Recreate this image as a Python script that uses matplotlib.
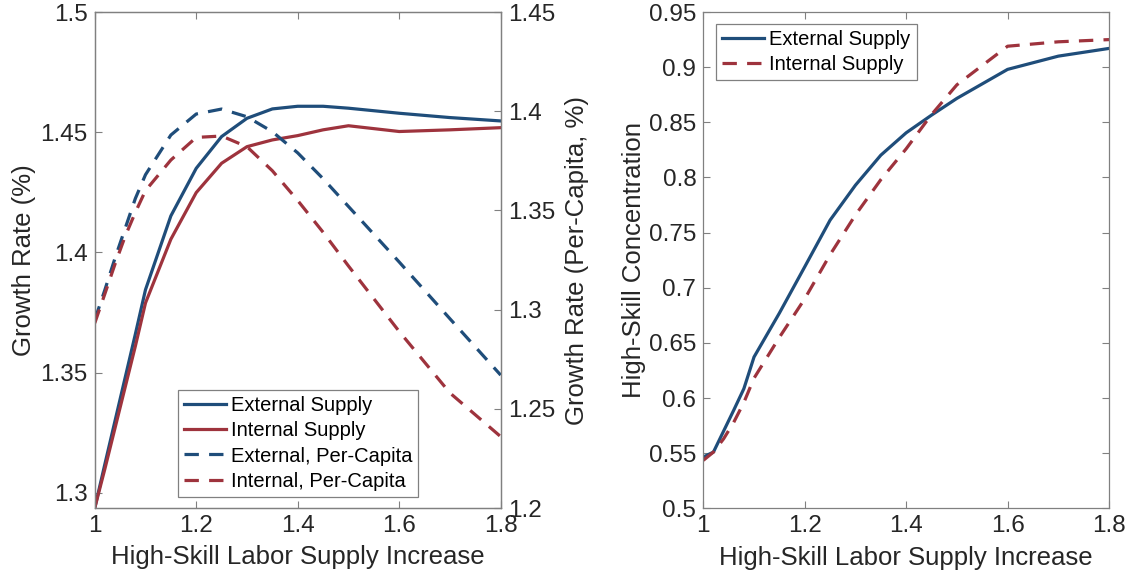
import numpy as np
import matplotlib
matplotlib.use("Agg")
import matplotlib.pyplot as plt
from matplotlib.ticker import FuncFormatter

plt.rcParams['font.family'] = ['Liberation Sans', 'DejaVu Sans']

# supply increase grid
supply = [1.0, 1.02, 1.04, 1.06, 1.08, 1.1, 1.15, 1.2, 1.25, 1.3, 1.35,
          1.4, 1.45, 1.5, 1.6, 1.7, 1.8]

# growth rate (%), left axis
growth_ext = [1.2937, 1.312, 1.330, 1.348, 1.366, 1.3845, 1.4152, 1.4350, 1.4482,
              1.4558, 1.4597, 1.4608, 1.4608, 1.4600, 1.4579, 1.4561, 1.4547]
growth_int = [1.2937, 1.310, 1.327, 1.344, 1.361, 1.379, 1.4055, 1.4249, 1.4371,
              1.4440, 1.4468, 1.4486, 1.4510, 1.4527, 1.4503, 1.4510, 1.4519]

# per-capita growth rate (%), right axis
pc_ext = [1.2948, 1.310, 1.326, 1.341, 1.356, 1.368, 1.388, 1.3986, 1.4011,
          1.3972, 1.3897, 1.379, 1.366, 1.352, 1.324, 1.2954, 1.267]
pc_int = [1.2932, 1.308, 1.323, 1.337, 1.349, 1.360, 1.3754, 1.3868, 1.3875,
          1.3821, 1.370, 1.355, 1.339, 1.322, 1.289, 1.258, 1.236]

# high-skill concentration
conc_ext = [0.5465, 0.551, 0.570, 0.589, 0.6085, 0.6372, 0.677, 0.719, 0.7613,
            0.793, 0.8202, 0.8405, 0.8565, 0.8717, 0.898, 0.910, 0.917]
conc_int = [0.5435, 0.551, 0.563, 0.578, 0.596, 0.618, 0.655, 0.690, 0.730,
            0.766, 0.798, 0.826, 0.857, 0.884, 0.919, 0.923, 0.925]

blue = "#1f4d7a"
red = "#9e333d"
txt = "#262626"
edge = "#808080"
lw = 2.3
dash = (4.5, 3.2)
fs = 17.5
fs_lab = 18.5
fs_leg = 14.5

fmt = FuncFormatter(lambda v, p: "%g" % round(v, 4))

def style(ax):
    for s in ax.spines.values():
        s.set_color(edge)
        s.set_linewidth(0.9)
    ax.tick_params(direction="in", colors=txt, labelsize=fs, length=5,
                   width=0.8, color=edge, pad=5)
    ax.xaxis.set_major_formatter(fmt)
    ax.yaxis.set_major_formatter(fmt)

fig = plt.figure(figsize=(11.32, 5.81), dpi=100)

# --- left panel: growth rates with twin axis ---
ax1 = fig.add_axes([0.0837, 0.1256, 0.3586, 0.8537])
ax2 = ax1.twinx()

l1, = ax1.plot(supply, growth_ext, color=blue, lw=lw, label="External Supply")
l2, = ax1.plot(supply, growth_int, color=red, lw=lw, label="Internal Supply")
l3, = ax2.plot(supply, pc_ext, color=blue, lw=lw, ls=(0, dash),
               label="External, Per-Capita")
l4, = ax2.plot(supply, pc_int, color=red, lw=lw, ls=(0, dash),
               label="Internal, Per-Capita")

ax1.set_xlim(1, 1.8)
ax1.set_ylim(1.2937, 1.5)
ax1.set_xticks([1, 1.2, 1.4, 1.6, 1.8])
ax1.set_yticks([1.3, 1.35, 1.4, 1.45, 1.5])
ax2.set_ylim(1.2, 1.45)
ax2.set_yticks([1.2, 1.25, 1.3, 1.35, 1.4, 1.45])
style(ax1)
style(ax2)
ax1.tick_params(top=True)
ax1.set_xlabel("High-Skill Labor Supply Increase", fontsize=fs_lab, color=txt,
               labelpad=6)
ax1.set_ylabel("Growth Rate (%)", fontsize=fs_lab, color=txt, labelpad=3)
ax2.set_ylabel("Growth Rate (Per-Capita, %)", fontsize=fs_lab, color=txt, labelpad=7.5)

leg = ax2.legend(handles=[l1, l2, l3, l4], loc="lower left",
                 bbox_to_anchor=(0.204, 0.023), fontsize=fs_leg,
                 frameon=True, fancybox=False, framealpha=1,
                 handlelength=2.1, handletextpad=0.25, borderpad=0.3,
                 labelspacing=0.3, borderaxespad=0)
leg.get_frame().set_edgecolor(edge)
leg.get_frame().set_linewidth(0.9)
for t in leg.get_texts():
    t.set_color("black")

# --- right panel: concentration ---
ax3 = fig.add_axes([0.6213, 0.1251, 0.3584, 0.8542])
ax3.plot(supply, conc_ext, color=blue, lw=lw, label="External Supply")
ax3.plot(supply, conc_int, color=red, lw=lw, ls=(0, dash), label="Internal Supply")
ax3.set_xlim(1, 1.8)
ax3.set_ylim(0.5, 0.95)
ax3.set_xticks([1, 1.2, 1.4, 1.6, 1.8])
ax3.set_yticks(np.arange(0.5, 0.951, 0.05))
style(ax3)
ax3.tick_params(top=True, right=True)
ax3.set_xlabel("High-Skill Labor Supply Increase", fontsize=fs_lab, color=txt,
               labelpad=6)
ax3.set_ylabel("High-Skill Concentration", fontsize=fs_lab, color=txt, labelpad=2)

leg2 = ax3.legend(loc="upper left", bbox_to_anchor=(0.031, 0.976), fontsize=fs_leg,
                  frameon=True, fancybox=False, framealpha=1,
                  handlelength=2.1, handletextpad=0.25, borderpad=0.3,
                  labelspacing=0.3, borderaxespad=0)
leg2.get_frame().set_edgecolor(edge)
leg2.get_frame().set_linewidth(0.9)
for t in leg2.get_texts():
    t.set_color("black")

fig.savefig("out.png", dpi=100)
